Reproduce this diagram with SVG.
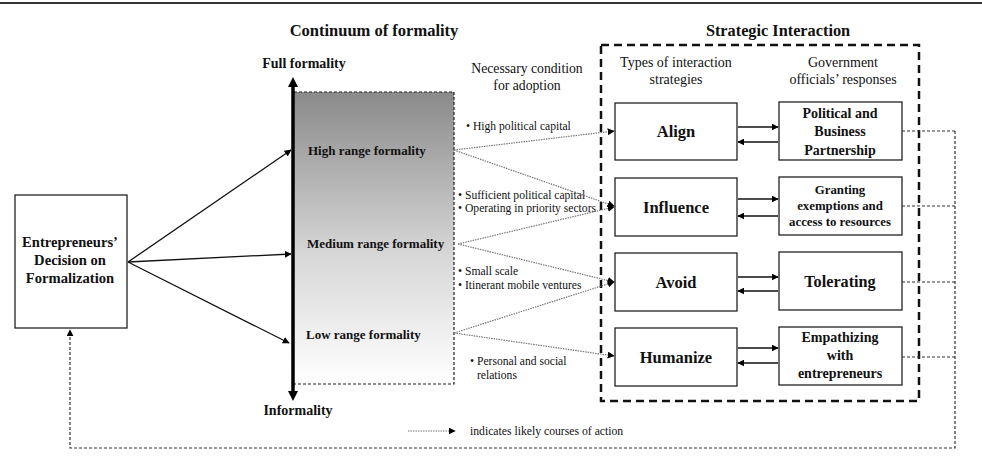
<svg xmlns="http://www.w3.org/2000/svg" width="982" height="467" viewBox="0 0 982 467" font-family="'Liberation Serif', 'DejaVu Serif', 'Times New Roman', serif">
<defs>
<linearGradient id="grad" x1="0" y1="0" x2="0" y2="1">
<stop offset="0" stop-color="#8a8a8a"/>
<stop offset="0.55" stop-color="#d6d6d6"/>
<stop offset="1" stop-color="#ffffff"/>
</linearGradient>
<marker id="ah" viewBox="0 0 10 10" refX="9" refY="5" markerWidth="7" markerHeight="7" markerUnits="userSpaceOnUse" orient="auto">
<path d="M0,0 L10,5 L0,10 z" fill="#000"/>
</marker>
</defs>
<style>
text{fill:#111}
.b{font-weight:bold}
.box{fill:#fff;stroke:#222;stroke-width:1.3}
.solid{stroke:#111;stroke-width:1.3;fill:none}
.dot{stroke:#777;stroke-width:1.2;stroke-dasharray:1.5 1;fill:none}
.fb{stroke:#333;stroke-width:1.2;stroke-dasharray:3 2;fill:none}
.bul{font-size:11.6px}
</style>
<rect width="982" height="467" fill="#fff"/>
<line x1="0" y1="3" x2="982" y2="3" stroke="#333" stroke-width="2"/>

<text x="374" y="36" font-size="16.5" class="b" text-anchor="middle">Continuum of formality</text>
<text x="778" y="36" font-size="16.3" class="b" text-anchor="middle">Strategic Interaction</text>

<g id="continuum">
<rect x="294" y="92" width="160" height="292" fill="url(#grad)"/>
<path d="M294,92 H454 V384 H294" fill="none" stroke="#222" stroke-width="1.2" stroke-dasharray="3 2"/>
<line x1="293" y1="86" x2="293" y2="394" stroke="#000" stroke-width="3.5"/>
<path d="M288,87 L293,77 L298,87 z" fill="#000"/>
<path d="M288,391 L293,401 L298,391 z" fill="#000"/>
<text x="304" y="68" font-size="14" class="b" text-anchor="middle">Full formality</text>
<text x="298" y="415" font-size="14" class="b" text-anchor="middle">Informality</text>
<text x="308" y="155" font-size="13" class="b">High range formality</text>
<text x="307" y="248" font-size="13" class="b">Medium range formality</text>
<text x="306" y="339" font-size="13" class="b">Low range formality</text>
</g>

<g id="entrepreneurs">
<rect class="box" x="15" y="195" width="112" height="133"/>
<text x="70" y="247" font-size="14.6" class="b" text-anchor="middle">Entrepreneurs’</text>
<text x="70" y="265" font-size="14.6" class="b" text-anchor="middle">Decision on</text>
<text x="70" y="283" font-size="14.6" class="b" text-anchor="middle">Formalization</text>
</g>

<g id="conditions">
<text x="527" y="73" font-size="13.7" text-anchor="middle">Necessary condition</text>
<text x="527" y="90" font-size="13.7" text-anchor="middle">for adoption</text>
<text class="bul" x="466" y="130">• High political capital</text>
<text class="bul" x="458" y="199">• Sufficient political capital</text>
<text class="bul" x="458" y="212">• Operating in priority sectors</text>
<text class="bul" x="458" y="275">• Small scale</text>
<text class="bul" x="458" y="289">• Itinerant mobile ventures</text>
<text class="bul" x="470" y="365">• Personal and social</text>
<text class="bul" x="477" y="379">relations</text>
</g>

<g id="strategic-interaction">
<rect x="601" y="45" width="318" height="356" fill="none" stroke="#111" stroke-width="2.5" stroke-dasharray="8 5"/>
<text x="676" y="67" font-size="14" text-anchor="middle">Types of interaction</text>
<text x="676" y="84" font-size="14" text-anchor="middle">strategies</text>
<text x="843" y="67" font-size="14" text-anchor="middle">Government</text>
<text x="843" y="84" font-size="14" text-anchor="middle">officials’ responses</text>
</g>

<g id="align"><rect class="box" x="615" y="103" width="122" height="57"/>
<text x="676" y="137" font-size="16.5" class="b" text-anchor="middle">Align</text></g>
<g id="influence"><rect class="box" x="615" y="178" width="122" height="58"/>
<text x="676" y="213" font-size="16.5" class="b" text-anchor="middle">Influence</text></g>
<g id="avoid"><rect class="box" x="615" y="253" width="122" height="58"/>
<text x="676" y="288" font-size="16.5" class="b" text-anchor="middle">Avoid</text></g>
<g id="humanize"><rect class="box" x="615" y="328" width="122" height="58"/>
<text x="676" y="363" font-size="16.5" class="b" text-anchor="middle">Humanize</text></g>

<g id="partnership"><rect class="box" x="779" y="102" width="123" height="58"/>
<text x="840" y="118" font-size="14" class="b" text-anchor="middle">Political and</text>
<text x="840" y="136" font-size="14" class="b" text-anchor="middle">Business</text>
<text x="840" y="155" font-size="14" class="b" text-anchor="middle">Partnership</text></g>
<g id="granting"><rect class="box" x="779" y="177" width="123" height="58"/>
<text x="840" y="194" font-size="12.8" class="b" text-anchor="middle">Granting</text>
<text x="840" y="210" font-size="12.8" class="b" text-anchor="middle">exemptions and</text>
<text x="840" y="226" font-size="12.8" class="b" text-anchor="middle">access to resources</text></g>
<g id="tolerating"><rect class="box" x="779" y="252" width="123" height="58"/>
<text x="840" y="287" font-size="16.2" class="b" text-anchor="middle">Tolerating</text></g>
<g id="empathizing"><rect class="box" x="779" y="327" width="123" height="58"/>
<text x="840" y="342" font-size="14" class="b" text-anchor="middle">Empathizing</text>
<text x="840" y="360" font-size="14" class="b" text-anchor="middle">with</text>
<text x="840" y="378" font-size="14" class="b" text-anchor="middle">entrepreneurs</text></g>

<g id="legend">
<line class="dot" x1="408" y1="431" x2="455" y2="431" marker-end="url(#ah)"/>
<text x="470" y="435" font-size="11.7">indicates likely courses of action</text>
</g>

<g id="connectors">
<line class="solid" x1="128" y1="262" x2="291" y2="150" marker-end="url(#ah)"/>
<line class="solid" x1="128" y1="262" x2="291" y2="254" marker-end="url(#ah)"/>
<line class="solid" x1="128" y1="262" x2="289" y2="343" marker-end="url(#ah)"/>

<line class="dot" x1="454" y1="150" x2="614" y2="131" marker-end="url(#ah)"/>
<line class="dot" x1="454" y1="150" x2="614" y2="206" marker-end="url(#ah)"/>
<line class="dot" x1="458" y1="244" x2="614" y2="207" marker-end="url(#ah)"/>
<line class="dot" x1="458" y1="244" x2="614" y2="282" marker-end="url(#ah)"/>
<line class="dot" x1="454" y1="333" x2="614" y2="282" marker-end="url(#ah)"/>
<line class="dot" x1="454" y1="333" x2="614" y2="356" marker-end="url(#ah)"/>

<line class="solid" x1="738" y1="127" x2="778" y2="127" marker-end="url(#ah)"/>
<line class="solid" x1="778" y1="142" x2="738" y2="142" marker-end="url(#ah)"/>
<line class="solid" x1="738" y1="199" x2="778" y2="199" marker-end="url(#ah)"/>
<line class="solid" x1="778" y1="216" x2="738" y2="216" marker-end="url(#ah)"/>
<line class="solid" x1="738" y1="277" x2="778" y2="277" marker-end="url(#ah)"/>
<line class="solid" x1="778" y1="291" x2="738" y2="291" marker-end="url(#ah)"/>
<line class="solid" x1="738" y1="348" x2="778" y2="348" marker-end="url(#ah)"/>
<line class="solid" x1="778" y1="363" x2="738" y2="363" marker-end="url(#ah)"/>

<line class="fb" x1="902" y1="131" x2="955" y2="131"/>
<line class="fb" x1="902" y1="206" x2="955" y2="206"/>
<line class="fb" x1="902" y1="282" x2="955" y2="282"/>
<line class="fb" x1="902" y1="357" x2="955" y2="357"/>
<path class="fb" d="M955,131 V448 H70 V330" marker-end="url(#ah)"/>
</g>
</svg>
